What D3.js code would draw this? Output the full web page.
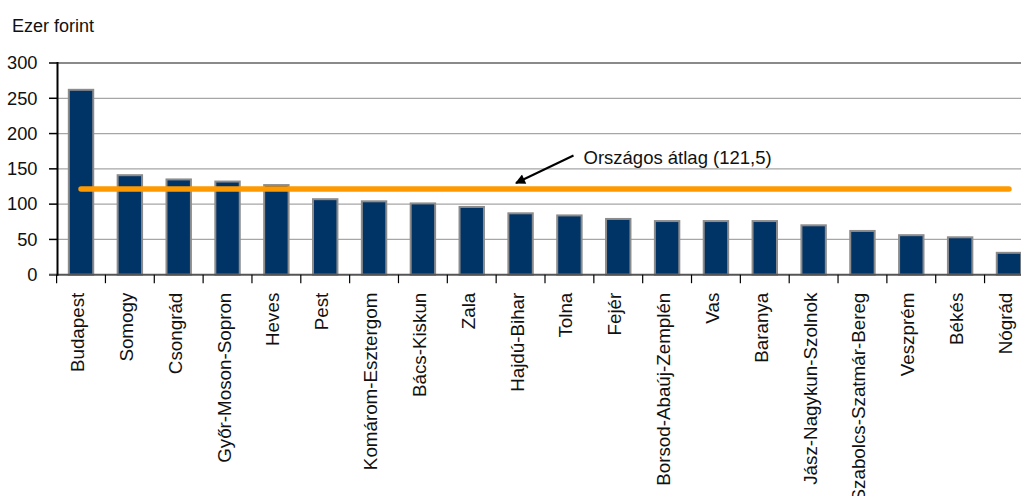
<!DOCTYPE html>
<html>
<head>
<meta charset="utf-8">
<script src="https://cdn.jsdelivr.net/npm/d3@7/dist/d3.min.js"></script>
<style>
  html, body { margin: 0; padding: 0; background: #fff; }
  svg { display: block; font-family: "Liberation Sans", Arial, sans-serif; }
</style>
</head>
<body>
<svg id="chart" width="1021" height="496"></svg>
<script>
const categories = ["Budapest","Somogy","Csongrád","Győr-Moson-Sopron","Heves","Pest","Komárom-Esztergom","Bács-Kiskun","Zala","Hajdú-Bihar","Tolna","Fejér","Borsod-Abaúj-Zemplén","Vas","Baranya","Jász-Nagykun-Szolnok","Szabolcs-Szatmár-Bereg","Veszprém","Békés","Nógrád"];
const values = [262, 141, 135, 132, 127, 107, 104, 101, 96, 87, 84, 79, 76, 76, 76, 70, 62, 56, 53, 31];
const average = 121.5;
const averageLabel = "Országos átlag (121,5)";
const yTicks = [0, 50, 100, 150, 200, 250, 300];
const yTitle = "Ezer forint";

const svg = d3.select("#chart");
const x0 = 56.6, x1 = 1033.4, yBottom = 274.7, yTop = 63;

const x = d3.scaleBand().domain(categories).range([x0, x1]).paddingInner(0.5).paddingOuter(0.25);
const step = x.step();
const y = d3.scaleLinear().domain([0, 300]).range([yBottom, yTop]);

// gridlines
svg.append("g").selectAll("line").data(yTicks.filter(d => d > 0)).join("line")
  .attr("x1", 57.5).attr("x2", 1021)
  .attr("y1", d => y(d)).attr("y2", d => y(d))
  .attr("stroke", d => d === 300 ? "#8a8a8a" : "#a6a6a6")
  .attr("stroke-width", d => d === 300 ? 2 : 1.2);

// y ticks and labels
const yg = svg.append("g");
yg.selectAll("line").data(yTicks).join("line")
  .attr("x1", 49).attr("x2", 57.5)
  .attr("y1", d => y(d)).attr("y2", d => y(d))
  .attr("stroke", "#000").attr("stroke-width", 1.5);
yg.selectAll("text").data(yTicks).join("text")
  .attr("x", 37.5).attr("y", d => y(d))
  .attr("dy", "0.34em")
  .attr("text-anchor", "end")
  .attr("font-size", 18.3).attr("fill", "#111")
  .text(d => d);

// bars
svg.append("g").selectAll("rect").data(values).join("rect")
  .attr("x", (d, i) => x(categories[i]))
  .attr("width", x.bandwidth())
  .attr("y", d => y(d))
  .attr("height", d => y(0) - y(d))
  .attr("fill", "#003366")
  .attr("stroke", "#8c8c8c")
  .attr("stroke-width", 2);

// x axis baseline
svg.append("line")
  .attr("x1", 49).attr("x2", 1021)
  .attr("y1", yBottom).attr("y2", yBottom)
  .attr("stroke", "#555").attr("stroke-width", 2);

// y axis line
svg.append("line")
  .attr("x1", 57.5).attr("x2", 57.5)
  .attr("y1", yTop - 1).attr("y2", yBottom + 1)
  .attr("stroke", "#000").attr("stroke-width", 2);

// x ticks at category boundaries
const bounds = d3.range(categories.length + 1).map(i => x0 + i * step);
svg.append("g").selectAll("line").data(bounds).join("line")
  .attr("x1", d => d).attr("x2", d => d)
  .attr("y1", yBottom).attr("y2", yBottom + 8.5)
  .attr("stroke", "#000").attr("stroke-width", 1.2);

// x labels
svg.append("g").selectAll("text").data(categories).join("text")
  .attr("transform", d => `translate(${x(d) + x.bandwidth() / 2},${yBottom + 18}) rotate(-90)`)
  .attr("text-anchor", "end")
  .attr("dy", "0.16em")
  .attr("font-size", 18.8).attr("fill", "#111")
  .text(d => d);

// average line
svg.append("line")
  .attr("x1", x(categories[0]) + x.bandwidth() / 2)
  .attr("x2", x(categories[categories.length - 1]) + x.bandwidth() / 2)
  .attr("y1", y(average)).attr("y2", y(average))
  .attr("stroke", "#ff9900").attr("stroke-width", 5.5)
  .attr("stroke-linecap", "round");

// annotation arrow
svg.append("defs").append("marker")
  .attr("id", "ah").attr("viewBox", "0 0 10 10")
  .attr("refX", 9).attr("refY", 5)
  .attr("markerWidth", 6).attr("markerHeight", 5)
  .attr("markerUnits", "strokeWidth")
  .attr("orient", "auto")
  .append("path").attr("d", "M0,0 L10,5 L0,10 Z").attr("fill", "#000");

svg.append("line")
  .attr("x1", 573.5).attr("y1", 155.5)
  .attr("x2", 516).attr("y2", 183)
  .attr("stroke", "#000").attr("stroke-width", 2)
  .attr("marker-end", "url(#ah)");

svg.append("text")
  .attr("x", 583.5).attr("y", 164)
  .attr("font-size", 18.5).attr("fill", "#111")
  .text(averageLabel);

// y title
svg.append("text")
  .attr("x", 12).attr("y", 32)
  .attr("font-size", 18).attr("fill", "#111")
  .text(yTitle);
</script>
</body>
</html>
